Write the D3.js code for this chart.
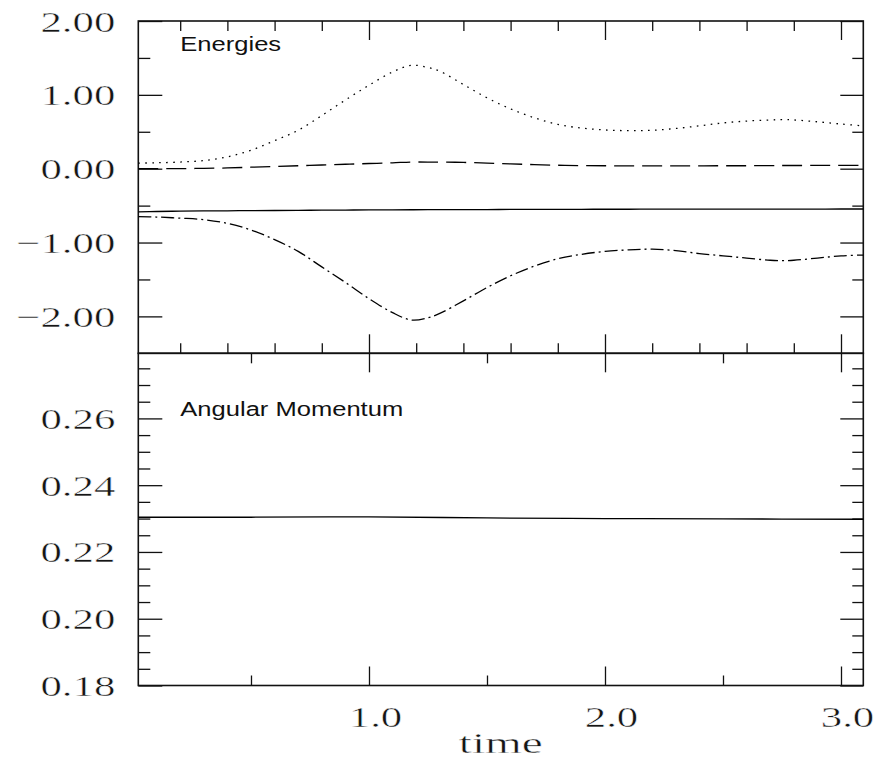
<!DOCTYPE html>
<html>
<head>
<meta charset="utf-8">
<script src="https://cdn.jsdelivr.net/npm/d3@7"></script>
<style>
  body { margin: 0; background: #fff; }
  svg { display: block; }
</style>
</head>
<body>
<svg id="chart" width="878" height="759"></svg>
<script>
// ---- data ---------------------------------------------------------------
// sample times for the energy curves
const timeE = [0.0225, 0.1, 0.2, 0.3, 0.4, 0.5, 0.6, 0.7, 0.8, 0.9, 1.0, 1.1, 1.18, 1.25,
               1.3, 1.4, 1.5, 1.6, 1.7, 1.8, 1.9, 2.0, 2.1, 2.2, 2.3, 2.4, 2.5, 2.6, 2.7,
               2.75, 2.8, 2.9, 3.0, 3.0945];
// dotted curve
const kinetic = [0.075, 0.08, 0.09, 0.11, 0.16, 0.25, 0.38, 0.52, 0.72, 0.93, 1.13, 1.31, 1.40, 1.37,
                 1.32, 1.14, 0.96, 0.81, 0.69, 0.60, 0.55, 0.525, 0.515, 0.52, 0.545, 0.58, 0.62, 0.645, 0.66,
                 0.665, 0.66, 0.635, 0.605, 0.58];
// dashed curve
const thermal = [0.0, 0.0, 0.0, 0.005, 0.01, 0.02, 0.03, 0.04, 0.05, 0.06, 0.07, 0.08, 0.09, 0.09,
                 0.09, 0.085, 0.075, 0.065, 0.055, 0.047, 0.042, 0.04, 0.038, 0.037, 0.037, 0.038, 0.04, 0.04, 0.042,
                 0.043, 0.043, 0.044, 0.045, 0.045];
// solid curve
const total = [-0.585, -0.58, -0.575, -0.572, -0.57, -0.568, -0.566, -0.564, -0.562, -0.56, -0.558, -0.557, -0.556, -0.555,
               -0.555, -0.554, -0.553, -0.552, -0.551, -0.55, -0.55, -0.549, -0.549, -0.548, -0.548, -0.548, -0.547, -0.547, -0.547,
               -0.547, -0.547, -0.547, -0.546, -0.546];
// dash-dot curve
const potential = [-0.65, -0.655, -0.67, -0.69, -0.74, -0.83, -0.96, -1.12, -1.33, -1.54, -1.76, -1.95, -2.05, -2.02,
                   -1.96, -1.79, -1.61, -1.45, -1.32, -1.22, -1.16, -1.12, -1.10, -1.09, -1.11, -1.15, -1.18, -1.21, -1.24,
                   -1.245, -1.24, -1.21, -1.18, -1.17];

// angular momentum
const timeL = [0.0225, 0.5, 1.0, 1.5, 2.0, 2.5, 3.0945];
const angMom = [0.2304, 0.2304, 0.2305, 0.2302, 0.2300, 0.2299, 0.2298];

// tick values
const xMajor = [1, 2, 3];
const xMinorTop = [0.2, 0.4, 0.6, 0.8, 1.2, 1.4, 1.6, 1.8, 2.2, 2.4, 2.6, 2.8];
const xMinorBottom = [0.5, 1.5, 2.5];
const yMajorE = [-2, -1, 0, 1, 2];
const yMinorE = [-1.5, -0.5, 0.5, 1.5];
const yMajorL = [0.18, 0.20, 0.22, 0.24, 0.26];
const yMinorL = d3.range(37, 56).map(k => k * 0.005).filter(v => Math.round(v * 1000) % 20 !== 0);

// ---- layout ---------------------------------------------------------------
const frameL = 138.3, frameR = 863.3, frameT = 21, frameM = 353.3, frameB = 685.5;
const svg = d3.select("#chart");

const x = d3.scaleLinear().domain([0.0225, 3.0945]).range([frameL, frameR]);
const yE = d3.scaleLinear().domain([-2.5, 2.0]).range([frameM, frameT]);
const yL = d3.scaleLinear().domain([0.18, 0.2795]).range([frameB, frameM]);

const fmt2 = d3.format(".2f");
const fmt1 = d3.format(".1f");

const serif = "'Liberation Serif', 'Times New Roman', serif";
const serifSize = 29.5;
const sans = "'Liberation Sans', Arial, sans-serif";

// thin, wide serif lettering for the numeric labels
function serifText(sel) {
  sel.attr("fill", "#151515").attr("stroke", "#fff").attr("stroke-width", 0.45)
    .attr("paint-order", "fill");
}

// draws one set of ticks (optionally labelled) and removes the domain line
function ticks(axisGen, scale, values, size, translate, fmt, pad) {
  const a = axisGen(scale).tickValues(values).tickSize(size)
    .tickPadding(pad || 0).tickFormat(fmt || (() => ""));
  const g = svg.append("g").attr("transform", translate).call(a);
  g.select(".domain").remove();
  g.selectAll(".tick line").attr("stroke", "#111").attr("stroke-width", 1.3);
  g.attr("font-family", serif).attr("font-size", serifSize);
  serifText(g.selectAll(".tick text"));
  return g;
}

// widen labels horizontally
function stretch(sel, factor) {
  sel.each(function () {
    const w = this.getComputedTextLength();
    if (w > 0) d3.select(this).attr("textLength", w * factor).attr("lengthAdjust", "spacingAndGlyphs");
  });
}

// ---- top panel: energies --------------------------------------------------
ticks(d3.axisTop, x, xMinorTop, -10, `translate(0,${frameT})`);
ticks(d3.axisTop, x, xMajor, -19, `translate(0,${frameT})`);
ticks(d3.axisBottom, x, xMinorTop, -10, `translate(0,${frameM})`);
ticks(d3.axisBottom, x, xMajor, -19, `translate(0,${frameM})`);
ticks(d3.axisLeft, yE, yMinorE, -12, `translate(${frameL},0)`);
const yLabE = ticks(d3.axisLeft, yE, yMajorE, -24, `translate(${frameL},0)`, fmt2, 23);
ticks(d3.axisRight, yE, yMinorE, -11, `translate(${frameR},0)`);
ticks(d3.axisRight, yE, yMajorE, -23, `translate(${frameR},0)`);
stretch(yLabE.selectAll(".tick text").attr("dy", "0.34em"), 1.45);

// ---- bottom panel: angular momentum --------------------------------------
ticks(d3.axisBottom, x, xMinorBottom, 10, `translate(0,${frameM})`);
ticks(d3.axisBottom, x, xMajor, 19, `translate(0,${frameM})`);
ticks(d3.axisBottom, x, xMinorBottom, -10, `translate(0,${frameB})`);
const xLab = ticks(d3.axisBottom, x, xMajor, -19, `translate(0,${frameB})`, fmt1, 21);
ticks(d3.axisLeft, yL, yMinorL, -12, `translate(${frameL},0)`);
const yLabL = ticks(d3.axisLeft, yL, yMajorL, -24, `translate(${frameL},0)`, fmt2, 23);
ticks(d3.axisRight, yL, yMinorL, -11, `translate(${frameR},0)`);
ticks(d3.axisRight, yL, yMajorL, -23, `translate(${frameR},0)`);
stretch(yLabL.selectAll(".tick text").attr("dy", "0.34em"), 1.45);
stretch(xLab.selectAll(".tick text").attr("dx", 6), 1.45);

// ---- frames ---------------------------------------------------------------
svg.append("rect").attr("x", frameL).attr("y", frameT).attr("width", frameR - frameL).attr("height", frameM - frameT)
  .attr("fill", "none").attr("stroke", "#111").attr("stroke-width", 1.6);
svg.append("rect").attr("x", frameL).attr("y", frameM).attr("width", frameR - frameL).attr("height", frameB - frameM)
  .attr("fill", "none").attr("stroke", "#111").attr("stroke-width", 1.6);

// ---- curves ---------------------------------------------------------------
const lineE = vals => d3.line().x((d, i) => x(timeE[i])).y(d => yE(d)).curve(d3.curveCatmullRom)(vals);

const curves = [
  { vals: kinetic, dash: "1.6,5.4" },
  { vals: thermal, dash: "20,8" },
  { vals: total, dash: null },
  { vals: potential, dash: "13,4,2,4" }
];
curves.forEach(c => {
  svg.append("path").attr("d", lineE(c.vals)).attr("fill", "none")
    .attr("stroke", "#000").attr("stroke-width", 1.3)
    .attr("stroke-dasharray", c.dash);
});

const lineL = d3.line().x((d, i) => x(timeL[i])).y(d => yL(d)).curve(d3.curveCatmullRom);
svg.append("path").attr("d", lineL(angMom)).attr("fill", "none")
  .attr("stroke", "#000").attr("stroke-width", 1.3);

// ---- captions -------------------------------------------------------------
const capE = svg.append("text").attr("x", 180.3).attr("y", 51)
  .attr("font-family", sans).attr("font-size", 19.5).attr("fill", "#111").text("Energies");
const capL = svg.append("text").attr("x", 180.3).attr("y", 416)
  .attr("font-family", sans).attr("font-size", 19.5).attr("fill", "#111").text("Angular Momentum");
stretch(capE, 1.31);
stretch(capL, 1.31);

const xTitle = svg.append("text").attr("x", (frameL + frameR) / 2).attr("y", 753)
  .attr("text-anchor", "middle").attr("font-family", serif).attr("font-size", serifSize)
  .text("time");
serifText(xTitle);
stretch(xTitle, 1.6);
</script>
</body>
</html>
